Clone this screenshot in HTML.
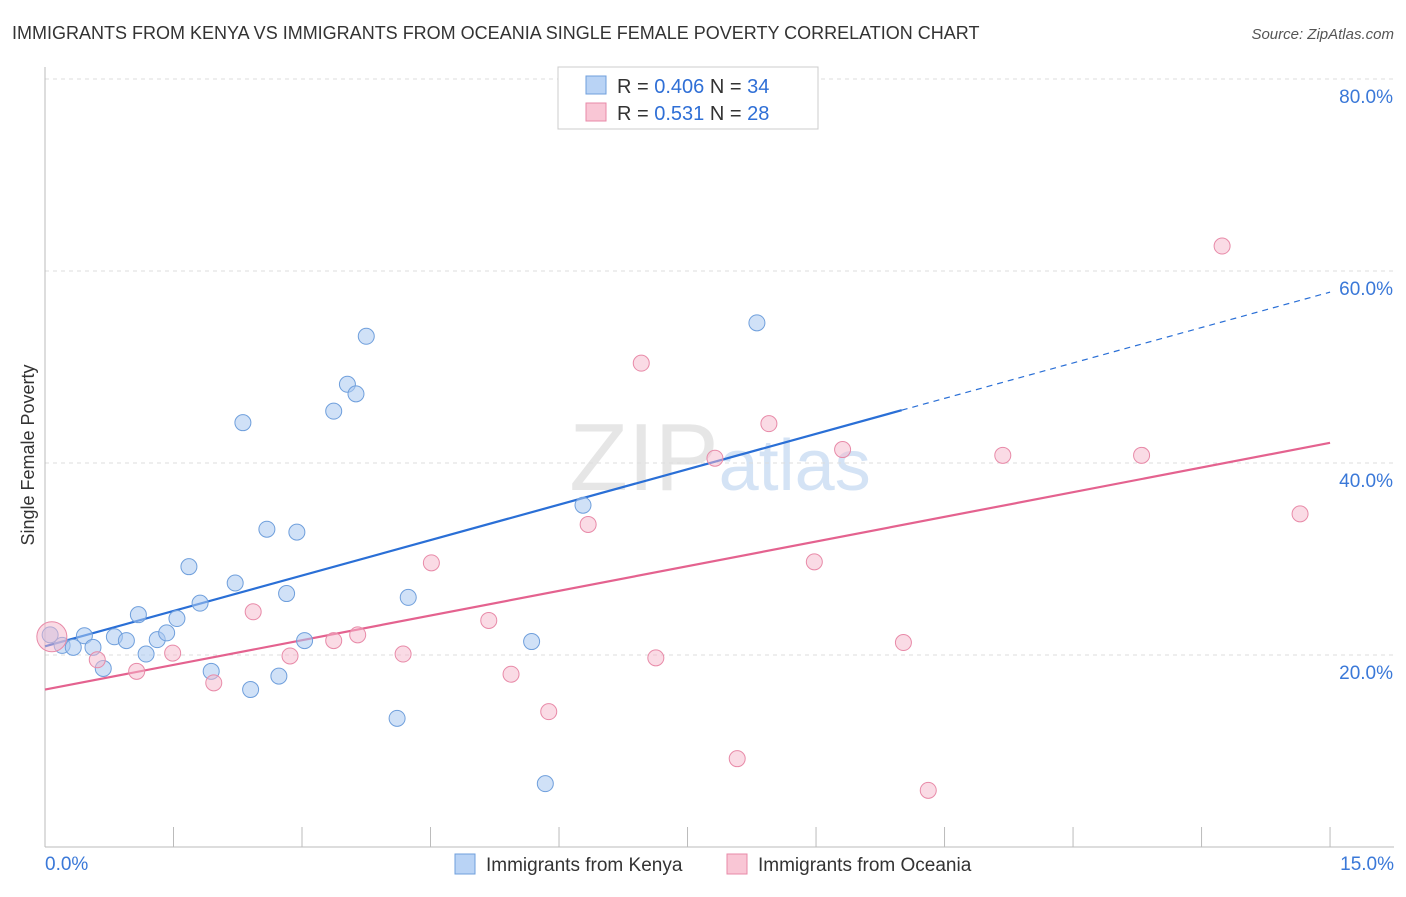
<!DOCTYPE html>
<html><head><meta charset="utf-8"><style>
body{margin:0;background:#fff;font-family:"Liberation Sans",sans-serif;}
svg text{font-family:"Liberation Sans",sans-serif;}
</style></head><body>
<svg id="chart" width="1406" height="892">
<text x="12" y="39" font-size="18" fill="#333">IMMIGRANTS FROM KENYA VS IMMIGRANTS FROM OCEANIA SINGLE FEMALE POVERTY CORRELATION CHART</text>
<text x="1394" y="39" font-size="15" fill="#555" font-style="italic" text-anchor="end">Source: ZipAtlas.com</text>
<text x="720" y="490" font-size="96" fill="#e6e6e6" text-anchor="middle" font-family="Liberation Serif">ZIP<tspan fill="#d4e3f5" font-family="Liberation Sans" font-size="72">atlas</tspan></text>
<g id="grid"></g><g id="axes"></g><g id="lines"></g><g id="points"></g>
<text transform="translate(34,455) rotate(-90)" font-size="18" fill="#333" text-anchor="middle">Single Female Poverty</text>
<g>
<rect x="558" y="67" width="260" height="62" fill="#fff" stroke="#ccc"/>
<rect x="586" y="76" width="20" height="18" fill="#b9d3f5" stroke="#6f9fdc"/>
<rect x="586" y="103" width="20" height="18" fill="#f9c6d5" stroke="#e88aa8"/>
<text x="617" y="93" font-size="20" fill="#333">R = <tspan fill="#2f6fd6">0.406</tspan>   N = <tspan fill="#2f6fd6">34</tspan></text>
<text x="617" y="120" font-size="20" fill="#333">R =  <tspan fill="#2f6fd6">0.531</tspan>   N = <tspan fill="#2f6fd6">28</tspan></text>
</g>
<g>
<rect x="455" y="854" width="20" height="20" fill="#b9d3f5" stroke="#6f9fdc"/>
<text x="486" y="871" font-size="19" fill="#333">Immigrants from Kenya</text>
<rect x="727" y="854" width="20" height="20" fill="#f9c6d5" stroke="#e88aa8"/>
<text x="758" y="871" font-size="19" fill="#333">Immigrants from Oceania</text>
</g>
</svg>
<script>
const xTicks=[0,1.5,3,4.5,6,7.5,9,10.5,12,13.5,15];
const yTicks=[20,40,60,80];
const yTickLabels=["20.0%","40.0%","60.0%","80.0%"];
const kenyaX=[0.06,0.20,0.33,0.46,0.56,0.68,0.81,0.95,1.09,1.18,1.31,1.42,1.54,1.68,1.81,1.94,2.22,2.31,2.40,2.59,2.73,2.82,2.94,3.03,3.37,3.53,3.63,3.75,4.11,4.24,5.68,5.84,6.28,8.31];
const kenyaY=[22.1,21.0,20.8,22.0,20.8,18.6,21.9,21.5,24.2,20.1,21.6,22.3,23.8,29.2,25.4,18.3,27.5,44.2,16.4,33.1,17.8,26.4,32.8,21.5,45.4,48.2,47.2,53.2,13.4,26.0,21.4,6.6,35.6,54.6];
const oceaniaX=[0.08,0.61,1.07,1.49,1.97,2.43,2.86,3.37,3.65,4.18,4.51,5.18,5.44,5.88,6.34,6.96,7.13,7.82,8.08,8.45,8.98,9.31,10.02,10.31,11.18,12.80,13.74,14.65];
const oceaniaY=[21.9,19.5,18.3,20.2,17.1,24.5,19.9,21.5,22.1,20.1,29.6,23.6,18.0,14.1,33.6,50.4,19.7,40.5,9.2,44.1,29.7,41.4,21.3,5.9,40.8,40.8,62.6,34.7];
const kenyaTrend=[20.9,57.8]; // value at x=0 and x=15
const oceaniaTrend=[16.4,42.1];
const kenyaSolidEnd=10.0;
const NS="http://www.w3.org/2000/svg";
const X=v=>45+v*85.67, Y=v=>847-v*9.6;
function mk(p,t,a){const e=document.createElementNS(NS,t);for(const k in a)e.setAttribute(k,a[k]);p.appendChild(e);return e;}
const grid=document.getElementById('grid'),axes=document.getElementById('axes'),lines=document.getElementById('lines'),pts=document.getElementById('points');
mk(grid,'line',{x1:45,x2:1394,y1:79,y2:79,stroke:'#ddd','stroke-dasharray':'4,4'});
yTicks.forEach((t,i)=>{
 const l=mk(grid,'line',{x1:45,x2:1394,y1:Y(t),y2:Y(t),stroke:'#ddd','stroke-dasharray':'4,4'});
 
 
 const tx=mk(axes,'text',{x:1393,y:Y(t)+24,'font-size':19,fill:'#3a78d8','text-anchor':'end'});
 tx.textContent=yTickLabels[i];
 
 
});
mk(axes,'line',{x1:45,x2:45,y1:67,y2:847,stroke:'#bbb'});
mk(axes,'line',{x1:45,x2:1394,y1:847,y2:847,stroke:'#bbb'});
xTicks.forEach(t=>{const l=mk(axes,'line',{x1:X(t),x2:X(t),y1:827,y2:847,stroke:'#bbb'});
 
 });
let a=mk(axes,'text',{x:45,y:870,'font-size':19,fill:'#3a78d8'});a.textContent='0.0%';


a=mk(axes,'text',{x:1394,y:870,'font-size':19,fill:'#3a78d8','text-anchor':'end'});a.textContent='15.0%';


function tv(tr,x){return tr[0]+(tr[1]-tr[0])*x/15;}
let l=mk(lines,'line',{x1:X(0),y1:Y(tv(kenyaTrend,0)),x2:X(kenyaSolidEnd),y2:Y(tv(kenyaTrend,kenyaSolidEnd)),stroke:'#2a6fd6','stroke-width':2.2});


l=mk(lines,'line',{x1:X(kenyaSolidEnd),y1:Y(tv(kenyaTrend,kenyaSolidEnd)),x2:X(15),y2:Y(tv(kenyaTrend,15)),stroke:'#2a6fd6','stroke-width':1.2,'stroke-dasharray':'6,5'});


l=mk(lines,'line',{x1:X(0),y1:Y(tv(oceaniaTrend,0)),x2:X(15),y2:Y(tv(oceaniaTrend,15)),stroke:'#e4628f','stroke-width':2.2});


kenyaX.forEach((x,i)=>{const c=mk(pts,'circle',{cx:X(x),cy:Y(kenyaY[i]),r:8,fill:'rgba(169,200,240,0.55)',stroke:'#6f9fdc','stroke-width':1});
 
 });
oceaniaX.forEach((x,i)=>{const c=mk(pts,'circle',{cx:X(x),cy:Y(oceaniaY[i]),r:i==0?15:8,fill:'rgba(245,184,203,0.5)',stroke:'#e88aa8','stroke-width':1});
 
 });
</script>
</body></html>
